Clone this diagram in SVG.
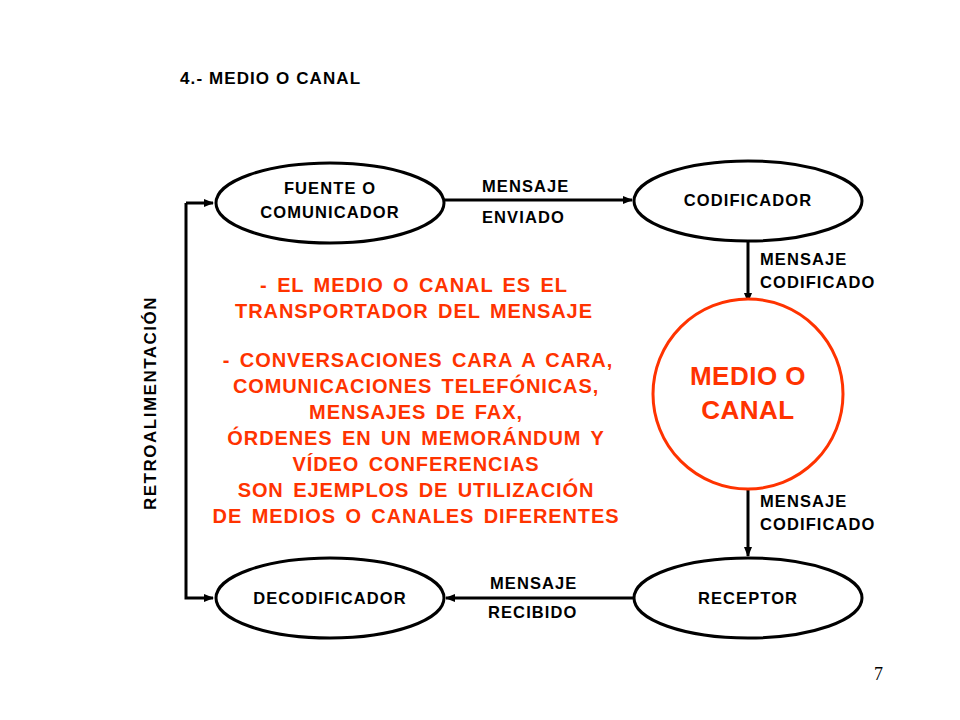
<svg xmlns="http://www.w3.org/2000/svg" width="960" height="720" viewBox="0 0 960 720">
<defs>
<marker id="ah" markerWidth="10" markerHeight="10" refX="9" refY="5" orient="auto" markerUnits="userSpaceOnUse"><path d="M0,1 L10,5 L0,9 Z" fill="#000"/></marker>
<style>
.n{fill:#fff;stroke:#000;stroke-width:3}
.t{font-family:"Liberation Sans",Arial,sans-serif;font-weight:bold;font-size:16.5px;fill:#000;letter-spacing:1.1px}
.r{font-family:"Liberation Sans",Arial,sans-serif;font-weight:bold;font-size:20px;fill:#ff3300;text-anchor:middle;letter-spacing:0.9px;word-spacing:3px}
.c{stroke:#000;stroke-width:3;fill:none}
</style>
</defs>
<rect width="960" height="720" fill="#fff"/>
<text class="t" x="180" y="84" style="font-size:17px">4.- MEDIO O CANAL</text>
<g id="connectors">
<line class="c" x1="445" y1="200" x2="632" y2="200" marker-end="url(#ah)"/>
<line class="c" x1="748" y1="242" x2="748" y2="302" marker-end="url(#ah)"/>
<line class="c" x1="748" y1="488" x2="748" y2="556" marker-end="url(#ah)"/>
<line class="c" x1="634" y1="598" x2="446" y2="598" marker-end="url(#ah)"/>
<path class="c" d="M186,203 L186,598 L213,598" marker-end="url(#ah)"/>
<line class="c" x1="186" y1="203" x2="213" y2="203" marker-end="url(#ah)"/>
<text class="t" x="482" y="192">MENSAJE</text>
<text class="t" x="482" y="223">ENVIADO</text>
<text class="t" x="760" y="265">MENSAJE</text>
<text class="t" x="760" y="288">CODIFICADO</text>
<text class="t" x="760" y="507">MENSAJE</text>
<text class="t" x="760" y="530">CODIFICADO</text>
<text class="t" x="490" y="589">MENSAJE</text>
<text class="t" x="488" y="618">RECIBIDO</text>
<text class="t" transform="translate(156,510) rotate(-90)" style="font-size:17px;letter-spacing:1.5px">RETROALIMENTACIÓN</text>
</g>
<g id="fuente"><ellipse class="n" cx="330" cy="203" rx="114" ry="40"/>
<text class="t" x="330" y="194" text-anchor="middle">FUENTE O</text><text class="t" x="330" y="218" text-anchor="middle">COMUNICADOR</text></g>
<g id="codificador"><ellipse class="n" cx="748" cy="201" rx="114" ry="40"/>
<text class="t" x="748" y="206" text-anchor="middle">CODIFICADOR</text></g>
<g id="medio"><circle cx="748" cy="394" r="95" fill="#fff" stroke="#ff3300" stroke-width="3"/>
<text class="r" x="748" y="385" style="font-size:26px;letter-spacing:0.5px;word-spacing:0">MEDIO O</text><text class="r" x="748" y="419" style="font-size:26px;letter-spacing:0.5px">CANAL</text></g>
<g id="decodificador"><ellipse class="n" cx="330" cy="598" rx="114" ry="40"/>
<text class="t" x="330" y="604" text-anchor="middle">DECODIFICADOR</text></g>
<g id="receptor"><ellipse class="n" cx="748" cy="598" rx="114" ry="40"/>
<text class="t" x="748" y="604" text-anchor="middle">RECEPTOR</text></g>
<g id="nota">
<text class="r" x="414" y="292">- EL MEDIO O CANAL ES EL</text>
<text class="r" x="414" y="318">TRANSPORTADOR DEL MENSAJE</text>
<text class="r" x="418" y="367">- CONVERSACIONES CARA A CARA,</text>
<text class="r" x="416" y="393">COMUNICACIONES TELEFÓNICAS,</text>
<text class="r" x="416" y="419">MENSAJES DE FAX,</text>
<text class="r" x="416" y="445">ÓRDENES EN UN MEMORÁNDUM Y</text>
<text class="r" x="416" y="471">VÍDEO CONFERENCIAS</text>
<text class="r" x="416" y="497">SON EJEMPLOS DE UTILIZACIÓN</text>
<text class="r" x="416" y="523">DE MEDIOS O CANALES DIFERENTES</text>
</g>
<text x="874" y="680" style="font-family:'Liberation Serif',serif;font-size:18px">7</text>
</svg>
